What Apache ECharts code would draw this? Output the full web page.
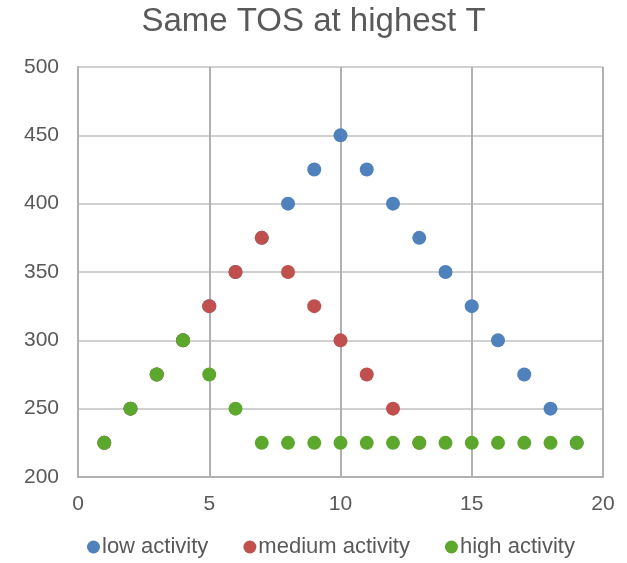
<!DOCTYPE html>
<html>
<head>
<meta charset="utf-8">
<script src="https://cdn.jsdelivr.net/npm/echarts@6/dist/echarts.min.js"></script>
<style>
  html, body { margin: 0; padding: 0; background: #fff; }
  #chart { width: 627px; height: 563px; }
</style>
</head>
<body>
<div id="chart"></div>
<script>
// Time steps shared by all series
const steps = [1, 2, 3, 4, 5, 6, 7, 8, 9, 10, 11, 12, 13, 14, 15, 16, 17, 18, 19];
// TOS values per activity level
const lowActivity = [225, 250, 275, 300, 325, 350, 375, 400, 425, 450, 425, 400, 375, 350, 325, 300, 275, 250, 225];
const mediumActivity = [225, 250, 275, 300, 325, 350, 375, 350, 325, 300, 275, 250, 225];
const highActivity = [225, 250, 275, 300, 275, 250, 225, 225, 225, 225, 225, 225, 225, 225, 225, 225, 225, 225, 225];

const seriesNames = ['low activity', 'medium activity', 'high activity'];
const seriesColors = ['#4f81bd', '#c0504d', '#5ba82d'];
const seriesValues = [lowActivity, mediumActivity, highActivity];

const textColor = '#595959';
const font = 'Liberation Sans, Arial, sans-serif';

const chart = echarts.init(document.getElementById('chart'));
chart.setOption({
  animation: false,
  title: {
    text: 'Same TOS at highest T',
    left: 'center',
    top: 0,
    textStyle: { fontFamily: font, fontSize: 33, fontWeight: 'normal', color: textColor }
  },
  legend: {
    bottom: 0,
    left: 82,
    icon: 'circle',
    itemWidth: 13,
    itemHeight: 13,
    itemGap: 35,
    textStyle: { fontFamily: font, fontSize: 22, color: textColor, padding: [0, 0, 0, -3] },
    data: seriesNames
  },
  grid: { left: 78, right: 24, top: 67, bottom: 86 },
  xAxis: {
    type: 'value',
    min: 0, max: 20, interval: 5,
    axisLine: { show: true, onZero: false, lineStyle: { color: '#b0b0b0', width: 2 } },
    axisTick: { show: false },
    axisLabel: { fontFamily: font, fontSize: 21, color: textColor, margin: 17 },
    splitLine: { show: true, lineStyle: { color: '#b0b0b0', width: 2 } }
  },
  yAxis: {
    type: 'value',
    min: 200, max: 500, interval: 50,
    axisLine: { show: true, lineStyle: { color: '#b0b0b0', width: 2 } },
    axisTick: { show: false },
    axisLabel: { fontFamily: font, fontSize: 21, color: textColor, margin: 19 },
    splitLine: { show: true, lineStyle: { color: '#d0d0d0', width: 2 } }
  },
  series: seriesNames.map((name, i) => ({
    name: name,
    type: 'scatter',
    symbol: 'circle',
    symbolSize: 14,
    itemStyle: { color: seriesColors[i], opacity: 1 },
    data: seriesValues[i].map((v, k) => [steps[k], v])
  }))
});
</script>
</body>
</html>
